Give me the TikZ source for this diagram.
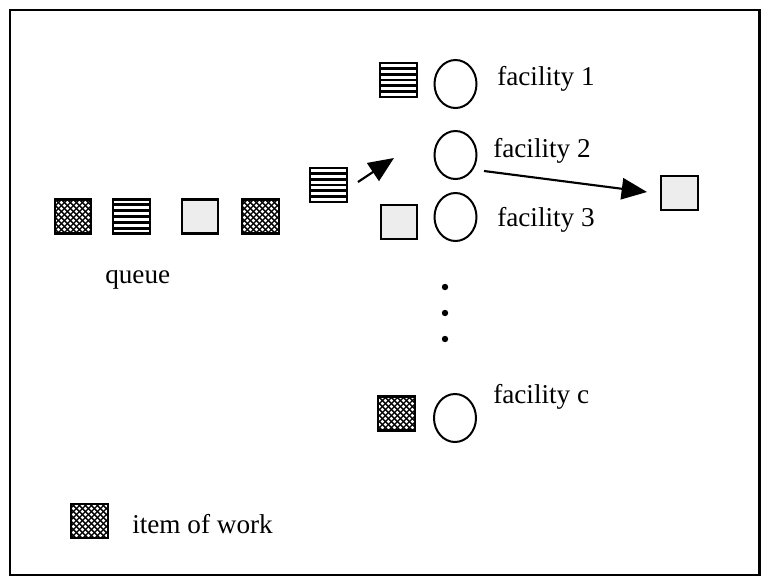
\documentclass[tikz,border=0pt]{standalone}
\usepackage{fontspec}
\setmainfont{Liberation Serif}
\usetikzlibrary{arrows.meta,patterns,shapes.geometric}

% white dots on black for the "item of work" fill
\pgfdeclarepatternformonly{workdots}{\pgfpoint{-0.2pt}{-0.2pt}}{\pgfpoint{4.7pt}{4.7pt}}{\pgfpoint{4.5pt}{4.5pt}}{%
  \pgfpathcircle{\pgfpoint{1.1pt}{1.1pt}}{1.35pt}%
  \pgfpathcircle{\pgfpoint{3.35pt}{3.35pt}}{1.35pt}%
  \pgfusepath{fill}}

\tikzset{
  item/.style={rectangle, draw=black, line width=1.6pt, minimum width=27.5pt, minimum height=25.5pt, inner sep=0pt},
  dotted item/.style={item, fill=black,
    postaction={pattern=workdots, pattern color=white},
    postaction={draw=black, line width=1.6pt}},
  plain item/.style={item, fill=gray!14},
  % five black bars between six white gaps of equal height
  striped item/.style={item, fill=white,
    path picture={%
      \foreach \k in {1,...,5}{
        \fill[black] ([yshift=-0.8pt-\k*4.34pt+2.17pt]path picture bounding box.north west)
          rectangle ([yshift=-0.8pt-\k*4.34pt]path picture bounding box.north east);}}},
  facility/.style={ellipse, draw=black, line width=1.5pt, minimum width=31.5pt, minimum height=36pt, inner sep=0pt},
  label text/.style={font=\fontsize{20.4}{24}\selectfont, inner sep=0pt, anchor=base west},
  move/.style={line width=1.6pt, -{Triangle[length=19pt,width=16pt]}},
  stop/.style={circle, fill=black, inner sep=0pt, minimum size=4.8pt}
}

\begin{document}
\begin{tikzpicture}[x=0.75pt, y=-0.75pt]
\useasboundingbox (0,0) rectangle (761,576);
\draw[line width=1.6pt] (10,10) rectangle (759.5,575);

% queue of waiting items
\node[dotted item]  (q1) at (73,216.5) {};
\node[striped item] (q2) at (131.5,216.5) {};
\node[plain item]   (q3) at (200,216.5) {};
\node[dotted item]  (q4) at (260.5,216.5) {};
\node[label text] (queue) at (105,283) {queue};

% item leaving the queue
\node[striped item] (mv) at (328.5,185) {};
\coordinate (mvfrom) at (358,182);
\coordinate (mvto) at (394,158);
\draw[move] (mvfrom) -- (mvto);

% facilities
\node[striped item] (s1) at (398.5,80) {};
\node[facility] (f1) at (455.5,84) {};
\node[label text] (t1) at (497,85) {facility 1};

\node[facility] (f2) at (455.5,155) {};
\node[label text] (t2) at (493,157) {facility 2};

\node[plain item] (s3) at (399,222) {};
\node[facility] (f3) at (455.5,217) {};
\node[label text] (t3) at (497,226) {facility 3};

\node[stop] (d1) at (445,287) {};
\node[stop] (d2) at (445,313) {};
\node[stop] (d3) at (445,339) {};

\node[dotted item] (sc) at (396.5,413.5) {};
\node[facility] (fc) at (455,418) {};
\node[label text] (tc) at (493,403) {facility c};

% finished item
\node[plain item] (out) at (679.5,193) {};
\coordinate (outfrom) at (484,171);
\coordinate (outto) at (647,192);
\draw[move] (outfrom) -- (outto);

% legend
\node[dotted item] (lg) at (89.5,521) {};
\node[label text] (lgt) at (132,533) {item of work};
\end{tikzpicture}
\end{document}
